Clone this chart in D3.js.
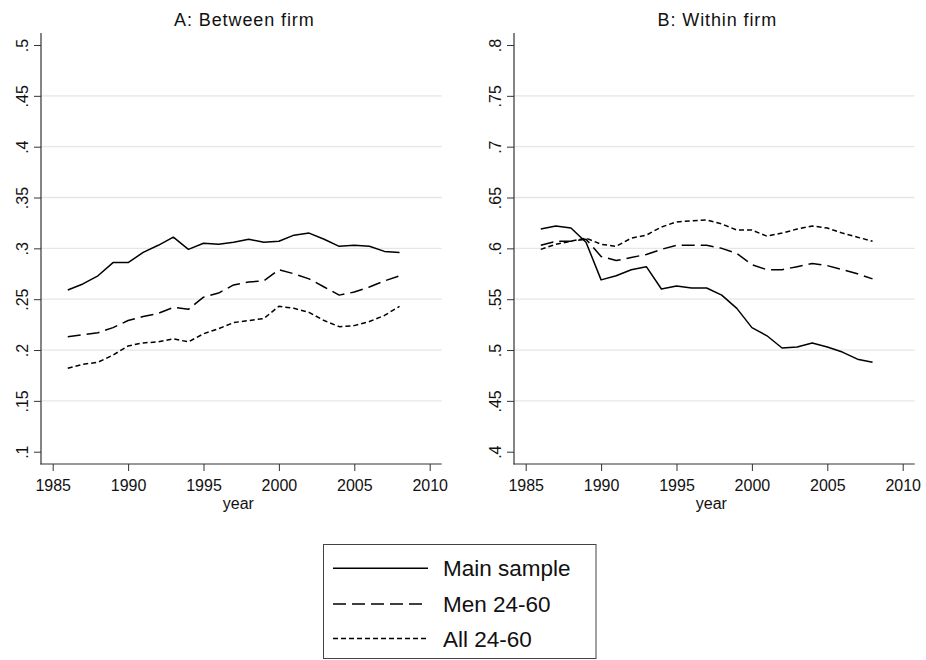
<!DOCTYPE html>
<html>
<head>
<meta charset="utf-8">
<script src="https://cdn.jsdelivr.net/npm/d3@7"></script>
<style>
  html, body { margin: 0; padding: 0; background: #fff; }
  svg { display: block; font-family: "Liberation Sans", Arial, Helvetica, sans-serif; }
</style>
</head>
<body>
<svg id="chart" width="926" height="660"></svg>
<script>
// Years covered by every series
const years = [1986, 1987, 1988, 1989, 1990, 1991, 1992, 1993, 1994, 1995, 1996, 1997,
               1998, 1999, 2000, 2001, 2002, 2003, 2004, 2005, 2006, 2007, 2008];

// Panel A: between-firm component
const betweenMain = [0.259, 0.265, 0.273, 0.286, 0.286, 0.296, 0.303, 0.311, 0.299, 0.305, 0.304, 0.306,
                     0.309, 0.306, 0.307, 0.313, 0.315, 0.309, 0.302, 0.303, 0.302, 0.297, 0.296];
const betweenMen  = [0.213, 0.215, 0.217, 0.222, 0.229, 0.233, 0.236, 0.242, 0.240, 0.252, 0.256, 0.264,
                     0.267, 0.268, 0.279, 0.275, 0.270, 0.262, 0.254, 0.257, 0.262, 0.268, 0.273];
const betweenAll  = [0.182, 0.186, 0.188, 0.195, 0.204, 0.207, 0.208, 0.211, 0.208, 0.216, 0.221, 0.227,
                     0.229, 0.231, 0.243, 0.241, 0.237, 0.229, 0.223, 0.224, 0.228, 0.234, 0.243];

// Panel B: within-firm component
const withinMain = [0.619, 0.622, 0.620, 0.606, 0.569, 0.573, 0.579, 0.582, 0.560, 0.563, 0.561, 0.561,
                    0.554, 0.541, 0.522, 0.514, 0.502, 0.503, 0.507, 0.503, 0.498, 0.491, 0.488];
const withinMen  = [0.603, 0.607, 0.607, 0.609, 0.592, 0.588, 0.591, 0.594, 0.599, 0.603, 0.603, 0.603,
                    0.600, 0.595, 0.584, 0.579, 0.579, 0.582, 0.585, 0.583, 0.579, 0.575, 0.570];
const withinAll  = [0.599, 0.604, 0.607, 0.610, 0.604, 0.602, 0.610, 0.613, 0.621, 0.626, 0.627, 0.628,
                    0.624, 0.618, 0.618, 0.612, 0.615, 0.619, 0.622, 0.620, 0.615, 0.611, 0.607];

// Axis ticks
const xTicks = [1985, 1990, 1995, 2000, 2005, 2010];
const yTicksA = [0.1, 0.15, 0.2, 0.25, 0.3, 0.35, 0.4, 0.45, 0.5];
const yTicksB = [0.4, 0.45, 0.5, 0.55, 0.6, 0.65, 0.7, 0.75, 0.8];

// Series names and titles
const seriesNames = ["Main sample", "Men 24-60", "All 24-60"];
const panelTitles = ["A: Between firm", "B: Within firm"];
const xTitle = "year";

// Line styles per series
const dashes = [null, "13,6", "5,3"];

const svg = d3.select("#chart");

// Stata-style tick label: drop the leading zero (0.45 -> .45)
const fmt = v => {
  let s = String(+v.toFixed(3));
  return s.startsWith("0.") ? s.slice(1) : s;
};

const plotTop = 33, plotBottom = 464;

function drawPanel(opts) {
  const { left, right, title, yTicks, yDomain, series } = opts;

  // x: 1985 sits 11.7px inside the left edge, 2010 sits 12px inside the right edge
  const x = d3.scaleLinear().domain([1985, 2010]).range([left + 11.7, right - 12]);
  const y = d3.scaleLinear().domain(yDomain).range([451.7, 45]);

  const g = svg.append("g");

  // light horizontal grid, omitted at the outermost ticks
  g.selectAll("line.grid")
    .data(yTicks.slice(1, -1))
    .join("line")
    .attr("class", "grid")
    .attr("x1", left).attr("x2", right)
    .attr("y1", d => y(d)).attr("y2", d => y(d))
    .attr("stroke", "#e6e6e6")
    .attr("stroke-width", 1.3);

  // y axis
  const yAxis = d3.axisLeft(y).tickValues(yTicks).tickFormat(fmt).tickSize(7).tickSizeOuter(0);
  const yg = g.append("g").attr("transform", `translate(${left},0)`).call(yAxis);
  yg.select(".domain").remove();
  yg.selectAll(".tick line").attr("stroke", "#333");
  yg.selectAll(".tick text")
    .attr("font-size", 16)
    .attr("fill", "#111")
    .attr("x", 0).attr("dy", 0)
    .attr("text-anchor", "middle")
    .attr("transform", "translate(-13,0) rotate(-90)")
    .attr("y", -0.5);
  g.append("line")
    .attr("x1", left).attr("x2", left)
    .attr("y1", plotTop).attr("y2", plotBottom + 0.5)
    .attr("stroke", "#333").attr("stroke-width", 1.2);

  // x axis
  const xAxis = d3.axisBottom(x).tickValues(xTicks).tickFormat(d3.format("d")).tickSize(7).tickSizeOuter(0);
  const xg = g.append("g").attr("transform", `translate(0,${plotBottom})`).call(xAxis);
  xg.select(".domain").remove();
  xg.selectAll(".tick line").attr("stroke", "#333");
  xg.selectAll(".tick text")
    .attr("font-size", 16)
    .attr("fill", "#111")
    .attr("y", 27).attr("dy", 0);
  g.append("line")
    .attr("x1", left - 0.5).attr("x2", right)
    .attr("y1", plotBottom).attr("y2", plotBottom)
    .attr("stroke", "#333").attr("stroke-width", 1.2);

  // axis title
  g.append("text")
    .attr("x", (left + right) / 2 - 3)
    .attr("y", 509)
    .attr("text-anchor", "middle")
    .attr("font-size", 16)
    .attr("fill", "#111")
    .text(xTitle);

  // panel title
  g.append("text")
    .attr("x", (left + right) / 2 + 3)
    .attr("y", 26)
    .attr("text-anchor", "middle")
    .attr("font-size", 18)
    .attr("letter-spacing", "0.9px")
    .attr("fill", "#111")
    .text(title);

  // series lines
  const line = d3.line().x((d, i) => x(years[i])).y(d => y(d));
  g.selectAll("path.series")
    .data(series)
    .join("path")
    .attr("class", "series")
    .attr("d", d => line(d))
    .attr("fill", "none")
    .attr("stroke", "#000")
    .attr("stroke-width", 1.5)
    .attr("stroke-linejoin", "round")
    .attr("stroke-dasharray", (d, i) => dashes[i]);
}

drawPanel({
  left: 41, right: 441.7, title: panelTitles[0],
  yTicks: yTicksA, yDomain: [0.1, 0.5],
  series: [betweenMain, betweenMen, betweenAll]
});

drawPanel({
  left: 514, right: 914.7, title: panelTitles[1],
  yTicks: yTicksB, yDomain: [0.4, 0.8],
  series: [withinMain, withinMen, withinAll]
});

// legend
const lg = svg.append("g");
lg.append("rect")
  .attr("x", 323.5).attr("y", 544.5)
  .attr("width", 272.5).attr("height", 114)
  .attr("fill", "#fff")
  .attr("stroke", "#444").attr("stroke-width", 1);

const rowY = [568.3, 604, 638.5];
const rows = lg.selectAll("g.row")
  .data(seriesNames)
  .join("g")
  .attr("class", "row")
  .attr("transform", (d, i) => `translate(0,${rowY[i]})`);

rows.append("line")
  .attr("x1", 333).attr("x2", 428)
  .attr("y1", 0).attr("y2", 0)
  .attr("stroke", "#000")
  .attr("stroke-width", 1.6)
  .attr("stroke-dasharray", (d, i) => dashes[i]);

rows.append("text")
  .attr("x", 443)
  .attr("y", 8)
  .attr("font-size", 22.5)
  .attr("fill", "#111")
  .text(d => d);
</script>
</body>
</html>
